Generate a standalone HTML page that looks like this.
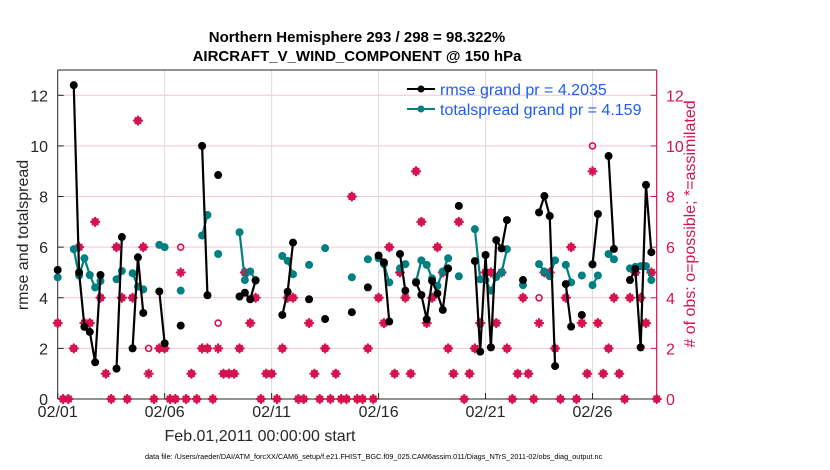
<!DOCTYPE html>
<html><head><meta charset="utf-8"><style>
body{margin:0;background:#fff;}
svg{display:block;font-family:"Liberation Sans",sans-serif;}
</style></head><body>
<svg id="chart" width="830" height="470" viewBox="0 0 830 470" xmlns="http://www.w3.org/2000/svg">
<g id="grid"></g>
<g id="axes"></g>
<g id="obs"></g>
<g id="series"></g>
<text x="357" y="42" text-anchor="middle" font-weight="bold" font-size="15">Northern Hemisphere 293 / 298 = 98.322%</text>
<text x="357" y="61" text-anchor="middle" font-weight="bold" font-size="15">AIRCRAFT_V_WIND_COMPONENT @ 150 hPa</text>
<text transform="translate(28,235) rotate(-90)" text-anchor="middle" font-size="16" fill="#262626">rmse and totalspread</text>
<text transform="translate(695,224) rotate(-90)" text-anchor="middle" font-size="16" fill="#d6124f"># of obs: o=possible; *=assimilated</text>
<text x="260" y="441" text-anchor="middle" font-size="16" fill="#262626">Feb.01,2011 00:00:00 start</text>
<text x="145" y="459" font-size="7.3" fill="#000">data file: /Users/raeder/DAI/ATM_forcXX/CAM6_setup/f.e21.FHIST_BGC.f09_025.CAM6assim.011/Diags_NTrS_2011-02/obs_diag_output.nc</text>
<g>
<line x1="407" y1="89" x2="435" y2="89" stroke="#000" stroke-width="2"/><circle cx="421" cy="89" r="3.5" fill="#000"/>
<text x="440" y="95" font-size="16" fill="#1f5cf5">rmse grand pr = 4.2035</text>
<line x1="407" y1="109" x2="435" y2="109" stroke="#008080" stroke-width="2"/><circle cx="421" cy="109" r="3.5" fill="#008080"/>
<text x="440" y="115" font-size="16" fill="#1f5cf5">totalspread grand pr = 4.159</text>
</g>
</svg>
<script>
const days=[];for(let i=0;i<=112;i++)days.push(i*0.25);
const N=null;
// rmse values indexed by 6-hour step (null = missing)
const rmse=[5.1,N,N,12.4,5.0,2.85,2.65,1.45,4.9,N,N,1.2,6.4,N,2.0,5.6,3.4,N,N,4.25,2.2,N,N,2.9,N,N,N,10.0,4.1,N,8.85,N,N,N,4.05,4.2,3.94,4.68,N,N,N,N,3.32,4.24,6.18,N,N,3.94,N,N,3.16,N,N,N,N,3.43,N,N,4.41,N,5.67,5.4,3.06,N,5.73,4.28,N,4.6,4.11,3.15,4.67,4.17,3.52,5.16,N,7.63,N,N,5.45,1.87,5.69,2.04,6.28,5.95,7.07,N,N,4.7,N,N,7.37,8.02,7.23,1.3,N,4.54,2.86,N,3.32,N,5.32,7.31,N,9.6,5.93,N,N,4.7,5.14,2.04,8.46,5.8,N];
const spread=[4.81,N,N,5.92,4.88,5.56,4.9,4.41,4.66,N,N,4.73,5.06,N,4.97,4.44,4.33,N,N,6.09,6.0,N,N,4.28,N,N,N,6.46,7.27,N,5.73,N,N,N,6.59,4.7,5.04,4.7,N,N,N,N,5.65,5.46,4.93,N,N,5.3,N,N,5.96,N,N,N,N,4.81,N,N,5.52,N,5.56,5.33,4.61,N,5.16,5.33,N,4.64,5.48,5.3,4.77,4.47,5.04,5.56,N,4.85,N,N,6.71,4.73,4.7,4.28,4.82,5.0,5.92,N,N,4.5,N,N,5.33,5.04,4.85,5.48,N,5.3,4.61,N,4.88,N,4.5,4.88,N,5.73,5.52,N,N,5.16,5.22,5.25,5.25,4.7,N];
const possible=[3,0,0,2,6,3,3,7,4,1,0,6,4,0,4,11,6,2,0,2,2,0,0,6,0,1,0,2,2,0,3,1,1,1,2,5,3,4,0,1,1,0,2,4,4,0,0,3,1,0,2,0,1,0,0,8,0,0,2,0,4,3,6,1,5,4,1,9,7,3,4,6,5,2,1,7,0,1,2,3,5,5,3,5,2,0,1,4,1,0,4,5,5,2,0,4,6,0,3,1,10,3,1,2,4,1,0,4,5,4,3,5,0];
const assimilated=[3,0,0,2,6,3,3,7,4,1,0,6,4,0,4,11,6,1,0,2,2,0,0,5,0,1,0,2,2,0,2,1,1,1,2,5,3,4,0,1,1,0,2,4,4,0,0,3,1,0,2,0,1,0,0,8,0,0,2,0,4,3,6,1,5,4,1,9,7,3,4,6,5,2,1,7,0,1,2,3,5,5,3,5,2,0,1,4,1,0,3,5,5,2,0,4,6,0,3,1,9,3,1,2,4,1,0,4,5,4,3,5,0];
const xTickLabels=["02/01","02/06","02/11","02/16","02/21","02/26"];
const xTickDays=[0,5,10,15,20,25];
const yTicks=[0,2,4,6,8,10,12];

const L=57.7,R=656.7,T=70,B=399,XMAX=28,YMAX=13;
const xs=d=>L+(d/XMAX)*(R-L);
const ys=v=>B-(v/YMAX)*(B-T);
const NS="http://www.w3.org/2000/svg";
function mk(tag,parent,attrs){const e=document.createElementNS(NS,tag);for(const k in attrs)e.setAttribute(k,attrs[k]);parent.appendChild(e);return e;}
const grid=document.getElementById('grid'),axes=document.getElementById('axes'),obs=document.getElementById('obs'),ser=document.getElementById('series');
const MAG="#d6124f";
yTicks.forEach(v=>{if(v===0)return;const l=mk('line',grid,{x1:L,x2:R,y1:ys(v),y2:ys(v),stroke:"#f2c6d6","stroke-width":1});

});
xTickDays.forEach((d,i)=>{if(d>0){const l=mk('line',grid,{x1:xs(d),x2:xs(d),y1:T,y2:B,stroke:"#dcdcdc","stroke-width":1});

}
const t=mk('text',axes,{x:xs(d),y:417,"text-anchor":"middle","font-size":16,fill:"#262626"});t.textContent=xTickLabels[i];


mk('line',axes,{x1:xs(d),x2:xs(d),y1:B,y2:B-6,stroke:"#262626"});});
yTicks.forEach(v=>{const t=mk('text',axes,{x:48,y:ys(v)+6,"text-anchor":"end","font-size":16,fill:"#262626"});t.textContent=v;


const t2=mk('text',axes,{x:666,y:ys(v)+6,"font-size":16,fill:MAG});t2.textContent=v;


mk('line',axes,{x1:L,x2:L+6,y1:ys(v),y2:ys(v),stroke:"#262626"});
mk('line',axes,{x1:R,x2:R-6,y1:ys(v),y2:ys(v),stroke:MAG});});
mk('line',axes,{x1:L,x2:L,y1:T,y2:B,stroke:"#262626"});
mk('line',axes,{x1:L,x2:R,y1:B,y2:B,stroke:"#262626"});
mk('line',axes,{x1:L,x2:R,y1:T,y2:T,stroke:"#262626"});
mk('line',axes,{x1:R,x2:R,y1:T,y2:B,stroke:MAG,"stroke-width":1.2});

days.forEach((d,i)=>{const x=xs(d);
const c=mk('circle',obs,{cx:x,cy:ys(possible[i]),r:3,fill:"none",stroke:MAG,"stroke-width":1.6});


const y=ys(assimilated[i]);const g=mk('g',obs,{stroke:MAG,"stroke-width":2.2,"stroke-linecap":"round"});


mk('line',g,{x1:x-4,x2:x+4,y1:y,y2:y});mk('line',g,{x1:x,x2:x,y1:y-4,y2:y+4});
mk('line',g,{x1:x-2.5,x2:x+2.5,y1:y-2.5,y2:y+2.5});mk('line',g,{x1:x-2.5,x2:x+2.5,y1:y+2.5,y2:y-2.5});});

function drawSeries(vals,color,name){let seg=[];const segs=[];
vals.forEach((v,i)=>{if(v===null){if(seg.length)segs.push(seg);seg=[];}else seg.push([xs(days[i]),ys(v)]);});
if(seg.length)segs.push(seg);
segs.forEach(s=>{if(s.length>1){const p=mk('polyline',ser,{points:s.map(q=>q.join(',')).join(' '),fill:"none",stroke:color,"stroke-width":2.2});

}});
vals.forEach((v,i)=>{if(v===null)return;const c=mk('circle',ser,{cx:xs(days[i]),cy:ys(v),r:4,fill:color});

});}
drawSeries(spread,"#008080","totalspread");
drawSeries(rmse,"#000000","rmse");
</script>
</body></html>
